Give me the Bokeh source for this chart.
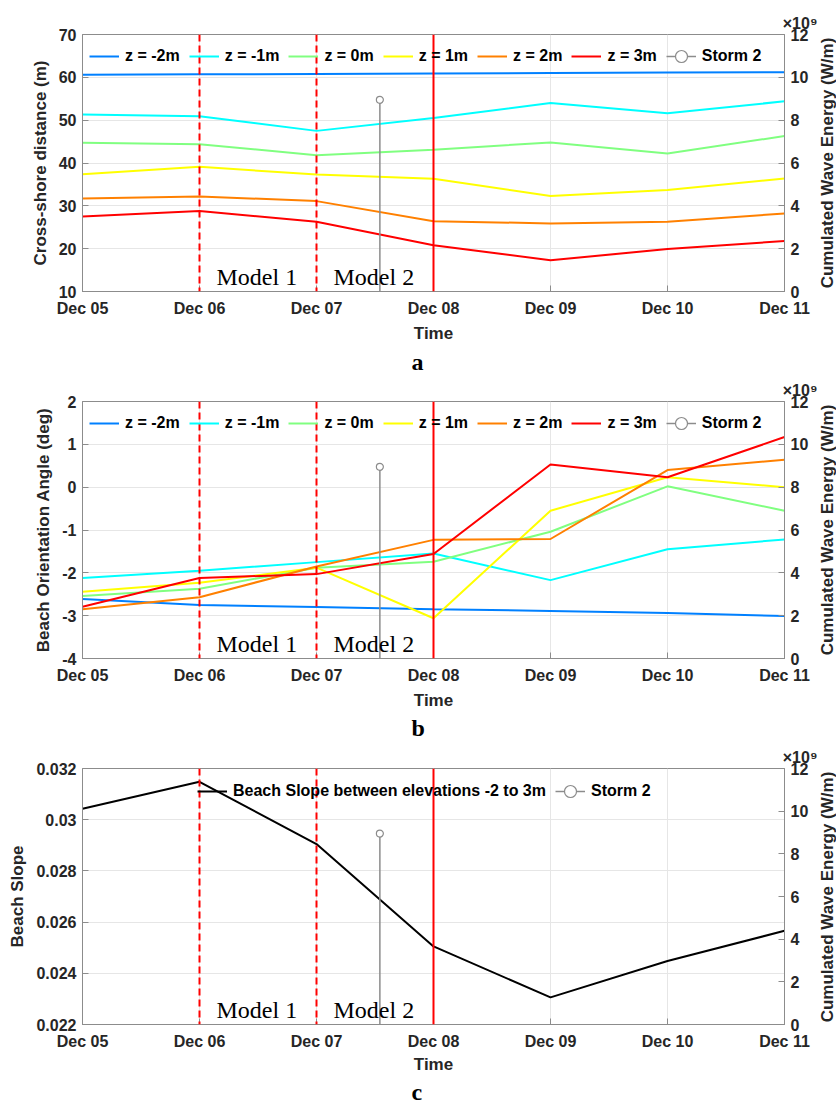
import pandas as pd
from bokeh.plotting import figure
from bokeh.models import (Range1d, LinearAxis, FixedTicker, DatetimeTickFormatter,
                          Span, Label, Legend, LegendItem, CustomJSTickFormatter,
                          Title, Div)
from bokeh.layouts import column, row
from bokeh.embed import file_html
from bokeh.resources import INLINE

# ---------------- data ----------------
dates = ["2016-12-05", "2016-12-06", "2016-12-07", "2016-12-08",
         "2016-12-09", "2016-12-10", "2016-12-11"]
z_labels = ["z = -2m", "z = -1m", "z = 0m", "z = 1m", "z = 2m", "z = 3m"]

dist_zm2 = [60.6, 60.7, 60.8, 60.9, 61.0, 61.1, 61.2]
dist_zm1 = [51.3, 50.9, 47.5, 50.5, 54.0, 51.6, 54.4]
dist_z0 = [44.7, 44.4, 41.8, 43.1, 44.8, 42.2, 46.3]
dist_z1 = [37.4, 39.1, 37.3, 36.3, 32.3, 33.7, 36.4]
dist_z2 = [31.7, 32.2, 31.1, 26.4, 25.9, 26.3, 28.2]
dist_z3 = [27.5, 28.8, 26.3, 20.8, 17.3, 19.9, 21.8]

angle_zm2 = [-2.61, -2.75, -2.80, -2.85, -2.89, -2.94, -3.01]
angle_zm1 = [-2.12, -1.95, -1.75, -1.55, -2.17, -1.45, -1.22]
angle_z0 = [-2.54, -2.37, -1.88, -1.74, -1.04, 0.02, -0.55]
angle_z1 = [-2.44, -2.23, -1.88, -3.06, -0.55, 0.23, 0.00]
angle_z2 = [-2.85, -2.57, -1.85, -1.23, -1.21, 0.40, 0.64]
angle_z3 = [-2.79, -2.12, -2.03, -1.56, 0.53, 0.23, 1.17]

slope = [0.03043, 0.03148, 0.02905, 0.02505, 0.02306, 0.02448, 0.02566]
slope_label = "Beach Slope between elevations -2 to 3m"

storm_time = ["2016-12-07 13:00"]
storm_energy = [8.95e9]
storm_label = "Storm 2"

model_starts = ["2016-12-06", "2016-12-07"]
model_names = ["Model 1", "Model 2"]
storm_line_time = "2016-12-08"

energy_ticks = [0, 2e9, 4e9, 6e9, 8e9, 10e9, 12e9]
energy_label = "Cumulated Wave Energy (W/m)"

z_colors = ["#0080FF", "#00FFFF", "#80FF80", "#FFFF00", "#FF8000", "#FF0000"]

# ---------------- helpers ----------------
SANS = "Liberation Sans"
SERIF = "Liberation Serif"
TXT = "#262626"
BOX = "#8C8C8C"
GRID = "#E6E6E6"
MAIN_W = 818
SIDE_W = 18


def ms(s):
    return pd.Timestamp(s).value / 1e6


x_vals = pd.to_datetime(dates)
storm_x = pd.to_datetime(storm_time)


def style_axis(ax, label):
    ax.axis_label = label
    ax.axis_label_text_font = SANS
    ax.axis_label_text_font_style = "bold"
    ax.axis_label_text_font_size = "17px"
    ax.axis_label_text_color = TXT
    ax.major_label_text_font = SANS
    ax.major_label_text_font_style = "bold"
    ax.major_label_text_font_size = "16px"
    ax.major_label_text_color = TXT
    ax.axis_line_color = BOX
    ax.major_tick_line_color = BOX
    ax.major_tick_in = 6
    ax.major_tick_out = 0
    ax.minor_tick_line_color = None
    ax.major_label_standoff = 6
    ax.axis_label_standoff = 6


def side_label(height, top):
    cy = top + 128.5
    html = (
        '<div style="position:relative;width:%dpx;height:%dpx;">'
        '<div style="position:absolute;left:9px;top:%.1fpx;'
        'transform:translate(-50%%,-50%%) rotate(-90deg);white-space:nowrap;'
        "font-family:'Liberation Sans';font-weight:bold;font-size:17px;"
        'line-height:1;color:%s;">%s</div></div>'
        % (SIDE_W, height, cy, TXT, energy_label)
    )
    return Div(text=html, width=SIDE_W, height=height,
               styles={"overflow": "visible", "margin": "0", "padding": "0"})


def make_panel(height, top, bottom, ylabel, yr, yticks, yfmt_digits, series,
               letter, legend_loc, xlab_standoff, letter_standoff):
    p = figure(width=MAIN_W, height=height, x_axis_type="datetime",
               output_backend="svg", toolbar_location=None,
               x_range=Range1d(ms(dates[0]), ms(dates[-1])),
               y_range=Range1d(yr[0], yr[1]),
               min_border_left=82, min_border_right=MAIN_W - 784,
               min_border_top=top, min_border_bottom=bottom)
    p.outline_line_color = BOX
    p.background_fill_color = "white"
    p.border_fill_color = "white"

    xt = FixedTicker(ticks=[ms(d) for d in dates])
    p.xaxis.ticker = xt
    fmt = "%b %d"
    p.xaxis.formatter = DatetimeTickFormatter(
        milliseconds=fmt, seconds=fmt, minsec=fmt, minutes=fmt, hourmin=fmt,
        hours=fmt, days=fmt, months=fmt, years=fmt)
    style_axis(p.xaxis[0], "Time")
    p.xaxis.major_label_standoff = 8
    p.xaxis.axis_label_standoff = xlab_standoff

    p.yaxis.ticker = FixedTicker(ticks=yticks)
    p.yaxis.formatter = CustomJSTickFormatter(
        code="return parseFloat(tick.toFixed(%d)).toString();" % yfmt_digits)
    style_axis(p.yaxis[0], ylabel)

    p.xgrid.ticker = xt
    p.xgrid.grid_line_color = GRID
    p.ygrid.grid_line_color = GRID

    p.extra_y_ranges = {"energy": Range1d(0, 12e9)}
    rax = LinearAxis(y_range_name="energy",
                     ticker=FixedTicker(ticks=energy_ticks),
                     formatter=CustomJSTickFormatter(
                         code="return (tick/1e9).toFixed(0);"))
    style_axis(rax, None)
    p.add_layout(rax, "right")

    # multiplier above right axis
    p.add_layout(Title(text="\u00d710\u2079", align="right",
                       offset=-(MAIN_W - 784 - 1),
                       standoff=5, text_font=SANS, text_font_style="bold",
                       text_font_size="16px", text_color=TXT), "above")

    # vertical model markers
    for d in model_starts:
        p.add_layout(Span(location=ms(d), dimension="height", line_color="#FF0000",
                          line_dash="7 4", line_width=2))
    p.add_layout(Span(location=ms(storm_line_time), dimension="height",
                      line_color="#FF0000", line_width=2))

    items = []
    for lab, ys, col in series:
        r = p.line(x_vals, ys, line_color=col, line_width=2)
        items.append(LegendItem(label=lab, renderers=[r]))

    seg = p.segment(x0=storm_x, y0=[0], x1=storm_x, y1=storm_energy,
                    y_range_name="energy", line_color=BOX, line_width=1.5)
    sc = p.scatter(storm_x, storm_energy, y_range_name="energy", size=7,
                   fill_color="white", line_color=BOX, line_width=1.2)
    items.append(LegendItem(label=storm_label, renderers=[seg, sc]))

    leg = Legend(items=items, orientation="horizontal", location=legend_loc,
                 margin=0, padding=7, spacing=9, glyph_width=30,
                 glyph_height=30, label_height=30, label_standoff=6,
                 label_text_font=SANS, label_text_font_style="bold",
                 label_text_font_size="16px", label_text_color="#000000",
                 background_fill_alpha=0, border_line_alpha=0)
    p.add_layout(leg)

    for d, name in zip(model_starts, model_names):
        p.add_layout(Label(x=ms(d), y=yr[0], x_offset=17, y_offset=15,
                           text=name, text_font=SERIF, text_font_size="24px",
                           text_color="#000000", text_baseline="alphabetic"))

    # panel letter
    p.add_layout(Title(text=letter, align="left", offset=329,
                       standoff=letter_standoff, text_font=SERIF,
                       text_font_style="bold", text_font_size="24px",
                       text_line_height=1.0, text_color="#000000"), "below")
    return row(p, side_label(height, top), spacing=0)


series_a = list(zip(z_labels, [dist_zm2, dist_zm1, dist_z0, dist_z1, dist_z2, dist_z3], z_colors))
series_b = list(zip(z_labels, [angle_zm2, angle_zm1, angle_z0, angle_z1, angle_z2, angle_z3], z_colors))
series_c = [(slope_label, slope, "#000000")]

r1 = make_panel(376, 34, 85, "Cross-shore distance (m)", (10, 70),
                [10, 20, 30, 40, 50, 60, 70], 0, series_a, "a", "top_left", 4, 2)
r2 = make_panel(367, 25, 85, "Beach Orientation Angle (deg)", (-4, 2),
                [-4, -3, -2, -1, 0, 1, 2], 0, series_b, "b", "top_left", 4, 0)
r3 = make_panel(361, 25, 79, "Beach Slope", (0.022, 0.032),
                [0.022, 0.024, 0.026, 0.028, 0.030, 0.032], 4, series_c, "c",
                (108, 211), 2, 0)

layout = column(r1, r2, r3, spacing=0)
open("out.html", "w").write(file_html(layout, INLINE))
